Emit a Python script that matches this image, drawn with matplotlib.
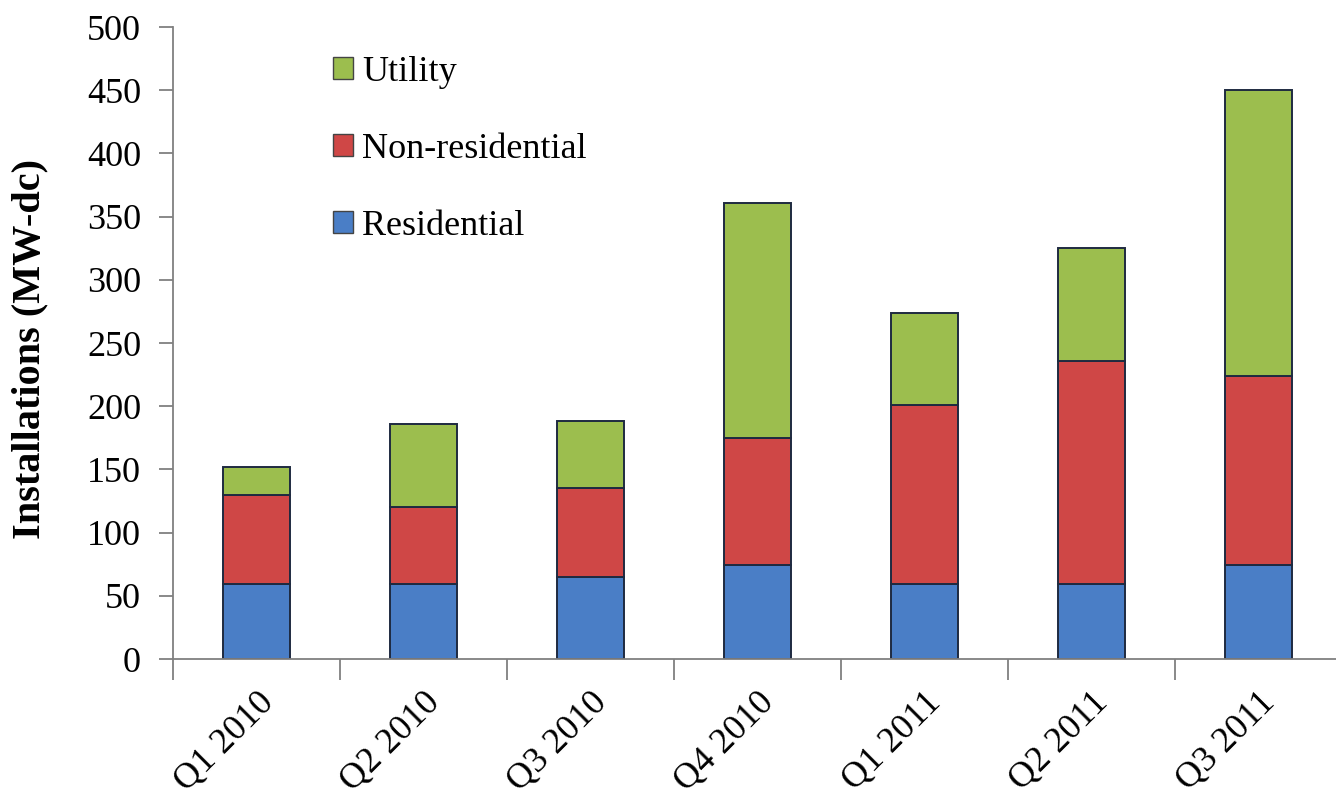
import matplotlib
matplotlib.use("Agg")
import matplotlib.pyplot as plt
from matplotlib.patches import Patch
import numpy as np

categories = ["Q1 2010", "Q2 2010", "Q3 2010", "Q4 2010", "Q1 2011", "Q2 2011", "Q3 2011"]
residential = [59, 59, 65, 74, 59, 59, 74]
non_residential = [71, 61, 70, 101, 142, 177, 150]
utility = [22, 66, 53, 186, 73, 89, 226]
yticks = [0, 50, 100, 150, 200, 250, 300, 350, 400, 450, 500]

plt.rcParams['font.family'] = ['Liberation Serif', 'DejaVu Serif']

W, H = 1336, 806
fig = plt.figure(figsize=(W / 100, H / 100), dpi=100)
ax = fig.add_axes([173 / W, (H - 659) / H, 1169 / W, 632 / H])

c_res = '#4A7EC6'
c_non = '#CF4746'
c_uti = '#9CBE4E'
edge = '#1E2A40'

x = np.arange(len(categories))
res = np.array(residential)
non = np.array(non_residential)
uti = np.array(utility)
bw = 0.40
ax.bar(x, res, bw, color=c_res, edgecolor=edge, linewidth=1.4, label='Residential')
ax.bar(x, non, bw, bottom=res, color=c_non, edgecolor=edge, linewidth=1.4, label='Non-residential')
ax.bar(x, uti, bw, bottom=res + non, color=c_uti, edgecolor=edge, linewidth=1.4, label='Utility')

ax.set_xlim(-0.5, len(categories) - 0.5)
ax.set_ylim(0, 500)
ax.set_yticks(yticks)
ax.set_yticklabels([str(v) for v in yticks])

for s in ['top', 'right']:
    ax.spines[s].set_visible(False)
for s in ['left', 'bottom']:
    ax.spines[s].set_color('#808080')
    ax.spines[s].set_linewidth(1.3)

ax.tick_params(axis='y', direction='out', length=10, width=1.3, color='#808080',
               labelsize=26, pad=13)
ax.set_xticks(x)
ax.set_xticks(np.arange(len(categories) + 1) - 0.5, minor=True)
ax.tick_params(axis='x', which='major', length=0, pad=19)
ax.tick_params(axis='x', which='minor', direction='out', length=15, width=1.3, color='#808080')
ax.set_xticklabels(categories, rotation=45, ha='right', va='top',
                   rotation_mode='anchor', fontsize=26)

ax.set_ylabel('Installations (MW-dc)', fontsize=29, fontweight='bold')
ax.yaxis.set_label_coords(48 / W, 1 - 349 / H, transform=fig.transFigure)

handles = [Patch(facecolor=c_uti, edgecolor='#444444', linewidth=1.0),
           Patch(facecolor=c_non, edgecolor='#444444', linewidth=1.0),
           Patch(facecolor=c_res, edgecolor='#444444', linewidth=1.0)]
labels = ['Utility', 'Non-residential', 'Residential']
fig.legend(handles, labels, loc='upper left', bbox_to_anchor=(333 / W, 1 - 56 / H),
           frameon=False, fontsize=26, handlelength=0.55, handleheight=0.55,
           handletextpad=0.25, labelspacing=1.22, borderpad=0, borderaxespad=0)

fig.savefig('out.png', dpi=100, facecolor='white')
